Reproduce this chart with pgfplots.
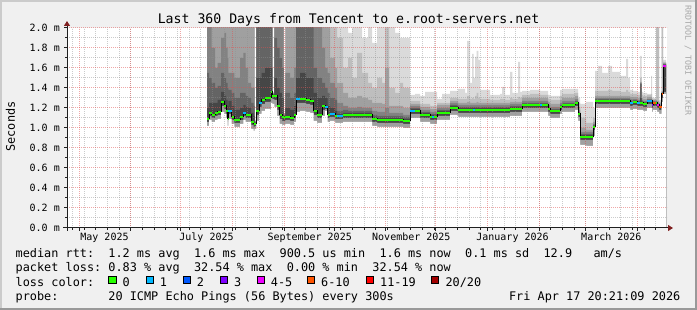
\documentclass[border=0pt]{standalone}
\usepackage{fontspec}
\setmainfont{DejaVu Sans Mono}
\usepackage{pgfplots}
\pgfplotsset{compat=1.18}
\usepackage{pgfplotstable}
\usetikzlibrary{arrows.meta}
\definecolor{backc}{HTML}{F0F0F0}
\definecolor{shadea}{HTML}{CBCBCB}
\definecolor{shadeb}{HTML}{999999}
\definecolor{axisc}{HTML}{202020}
\definecolor{arrowc}{HTML}{802020}
\definecolor{mgridc}{HTML}{E05050}
\definecolor{gridc}{HTML}{8F8F8F}
\definecolor{smA}{HTML}{DADADA}
\definecolor{smB}{HTML}{BEBEBE}
\definecolor{smC}{HTML}{A0A0A0}
\definecolor{smD}{HTML}{828282}
\definecolor{smE}{HTML}{646464}
\definecolor{smF}{HTML}{464646}
\definecolor{lossA}{HTML}{26FF00}
\definecolor{lossB}{HTML}{00B8FF}
\definecolor{lossC}{HTML}{0059FF}
\definecolor{lossD}{HTML}{7E00FF}
\definecolor{lossE}{HTML}{EE00FF}
\definecolor{lossF}{HTML}{FF5500}
\definecolor{lossG}{HTML}{FF0000}
\definecolor{lossH}{HTML}{A10000}
\definecolor{wmc}{HTML}{A8A8A8}
\newcommand\legfont{\fontsize{11.85bp}{14bp}\selectfont}
\newcommand\axfont{\fontsize{10bp}{12bp}\selectfont}
\newcommand\titlefont{\fontsize{13.2bp}{15bp}\selectfont}
\newcommand\wmfont{\fontsize{8.3bp}{10bp}\selectfont}

\pgfplotstableread{
d      med   u1    u2    u3    u4    u5    u6    lo2   lo1
84.00  1.09  2.1   2.1   2.1   2.1   1.55  1.20  1.06  1.02
85.20  1.15  2.1   2.1   2.1   2.1   1.50  1.25  1.12  1.08
86.82  1.13  2.1   2.1   2.1   1.80  1.45  1.25  1.10  1.06
88.80  1.15  2.1   2.1   2.1   1.60  1.40  1.25  1.12  1.08
90.42  1.16  2.1   2.1   2.1   1.65  1.42  1.28  1.13  1.09
92.40  1.26  2.1   2.1   2.1   1.90  1.55  1.36  1.22  1.16
94.38  1.22  2.1   2.1   2.1   1.95  1.50  1.32  1.19  1.14
95.40  1.17  2.1   2.1   2.1   1.80  1.45  1.28  1.14  1.10
96.42  1.09  2.1   2.1   2.1   1.70  1.40  1.22  1.06  1.02
96.78  1.17  2.1   2.1   2.1   1.55  1.38  1.27  1.14  1.09
98.82  1.11  2.1   2.1   2.1   1.55  1.35  1.22  1.08  1.04
100.38 1.08  2.1   2.1   2.1   1.50  1.30  1.18  1.05  1.01
103.80 1.11  2.1   2.1   2.1   1.70  1.35  1.20  1.08  1.04
105.78 1.15  2.1   2.1   2.1   1.75  1.35  1.23  1.12  1.08
107.22 1.13  2.1   2.1   2.1   1.60  1.32  1.21  1.10  1.06
108.60 1.13  2.1   2.1   2.1   1.45  1.30  1.20  1.10  1.06
110.40 1.06  2.1   2.1   2.1   1.40  1.25  1.15  1.03  0.99
112.02 1.04  2.1   2.1   2.1   1.40  1.22  1.12  1.01  0.97
112.50 1.04  1.08  1.07  1.07  1.06  1.06  1.05  1.02  0.99
113.58 1.17  2.1   2.1   2.1   2.1   2.1   1.50  1.13  1.07
115.20 1.25  2.1   2.1   2.1   2.1   2.1   1.50  1.21  1.14
116.82 1.28  2.1   2.1   2.1   2.1   2.1   1.55  1.24  1.17
118.80 1.30  2.1   2.1   2.1   2.1   2.1   1.60  1.26  1.19
122.40 1.36  2.1   2.1   2.1   2.1   2.1   1.60  1.32  1.25
123.18 1.32  1.36  1.35  1.35  1.34  1.34  1.33  1.29  1.24
124.38 1.32  2.1   2.1   2.1   2.1   1.90  1.50  1.28  1.21
126.00 1.22  2.1   2.1   2.1   2.1   1.80  1.40  1.18  1.12
127.50 1.13  2.1   2.1   2.1   2.1   1.70  1.35  1.09  1.04
129.00 1.11  2.1   2.1   2.1   2.1   1.60  1.30  1.07  1.03
130.02 1.10  1.15  1.14  1.14  1.13  1.13  1.12  1.07  1.03
130.98 1.11  2.1   2.1   2.1   1.55  1.35  1.20  1.08  1.04
133.80 1.10  2.1   2.1   2.1   1.50  1.30  1.18  1.07  1.03
136.20 1.13  2.1   2.1   2.1   1.60  1.35  1.22  1.10  1.06
137.40 1.29  2.1   2.1   2.1   2.1   2.1   1.50  1.25  1.16
139.80 1.29  2.1   2.1   2.1   2.1   2.1   1.55  1.25  1.17
143.40 1.28  2.1   2.1   2.1   2.1   2.1   1.50  1.24  1.16
145.80 1.27  2.1   2.1   2.1   2.1   2.1   1.50  1.23  1.15
147.90 1.17  2.1   2.1   2.1   2.1   1.60  1.35  1.13  1.07
150.00 1.13  2.1   2.1   2.1   2.1   1.50  1.30  1.10  1.05
153.00 1.22  2.1   2.1   2.1   1.80  1.45  1.32  1.18  1.12
154.80 1.21  2.1   2.1   2.1   1.60  1.40  1.30  1.19  1.17
156.42 1.13  2.1   2.1   2.1   1.55  1.35  1.22  1.10  1.06
157.80 1.14  2.1   2.1   1.70  1.45  1.30  1.20  1.11  1.07
160.80 1.12  2.1   2.1   1.60  1.40  1.28  1.17  1.09  1.05
162.00 1.12  2.1   1.90  1.45  1.25  1.17  1.14  1.09  1.05
165.60 1.13  2.1   1.60  1.35  1.22  1.18  1.15  1.10  1.06
168.60 1.13  1.95  1.70  1.30  1.20  1.17  1.15  1.10  1.06
171.00 1.13  2.1   1.50  1.30  1.20  1.17  1.15  1.10  1.06
174.00 1.13  2.1   1.75  1.32  1.21  1.17  1.15  1.10  1.06
177.00 1.13  1.90  1.55  1.30  1.20  1.17  1.15  1.10  1.06
180.60 1.13  2.1   1.45  1.28  1.20  1.17  1.15  1.10  1.06
183.00 1.09  1.85  1.40  1.25  1.17  1.13  1.11  1.06  1.02
186.00 1.08  2.1   1.50  1.25  1.16  1.12  1.10  1.05  1.01
189.00 1.08  2.1   1.45  1.24  1.16  1.12  1.10  1.05  1.01
190.80 1.08  2.1   2.1   1.60  1.20  1.12  1.10  1.05  1.01
193.20 1.08  2.1   1.40  1.22  1.15  1.12  1.10  1.05  1.01
196.80 1.08  1.95  1.35  1.22  1.15  1.12  1.10  1.05  1.01
199.80 1.08  1.90  1.45  1.22  1.15  1.12  1.10  1.05  1.01
201.60 1.07  1.90  1.40  1.20  1.13  1.11  1.09  1.04  1.00
205.80 1.17  1.33  1.27  1.24  1.22  1.20  1.19  1.14  1.10
208.80 1.17  1.34  1.27  1.24  1.22  1.20  1.19  1.14  1.10
211.80 1.13  1.32  1.24  1.21  1.18  1.16  1.15  1.10  1.06
214.80 1.13  1.36  1.24  1.21  1.18  1.16  1.15  1.10  1.06
217.80 1.11  1.36  1.22  1.19  1.16  1.14  1.13  1.08  1.04
222.00 1.15  1.29  1.25  1.23  1.20  1.18  1.17  1.12  1.08
225.00 1.15  1.34  1.25  1.23  1.20  1.18  1.17  1.12  1.08
229.80 1.20  1.37  1.30  1.27  1.25  1.23  1.22  1.17  1.13
234.60 1.18  1.39  1.29  1.25  1.23  1.21  1.20  1.15  1.11
238.80 1.18  1.35  1.29  1.25  1.23  1.21  1.20  1.15  1.11
240.00 1.18  1.87  1.32  1.26  1.23  1.21  1.20  1.15  1.11
241.80 1.18  1.45  1.29  1.25  1.23  1.21  1.20  1.15  1.11
243.00 1.18  1.74  1.30  1.25  1.23  1.21  1.20  1.15  1.11
243.90 1.18  1.50  1.29  1.25  1.23  1.21  1.20  1.15  1.11
244.80 1.18  1.71  1.32  1.25  1.23  1.21  1.20  1.15  1.11
245.82 1.18  1.77  1.35  1.26  1.23  1.21  1.20  1.15  1.11
246.78 1.18  1.68  1.30  1.25  1.23  1.21  1.20  1.15  1.11
247.80 1.18  1.38  1.29  1.25  1.23  1.21  1.20  1.15  1.11
253.80 1.18  1.33  1.28  1.25  1.23  1.21  1.20  1.15  1.11
259.80 1.18  1.34  1.29  1.25  1.23  1.21  1.20  1.15  1.11
261.00 1.18  1.41  1.29  1.25  1.23  1.21  1.20  1.15  1.11
262.80 1.18  1.33  1.28  1.25  1.23  1.21  1.20  1.15  1.11
265.80 1.19  1.56  1.30  1.26  1.24  1.22  1.21  1.16  1.12
267.18 1.19  1.35  1.29  1.26  1.24  1.22  1.21  1.16  1.12
270.60 1.19  1.66  1.31  1.26  1.24  1.22  1.21  1.16  1.12
271.80 1.19  1.36  1.30  1.26  1.24  1.22  1.21  1.16  1.12
273.00 1.23  1.37  1.33  1.30  1.27  1.25  1.24  1.20  1.16
277.80 1.23  1.38  1.34  1.30  1.27  1.25  1.24  1.20  1.16
283.80 1.23  1.37  1.33  1.30  1.27  1.25  1.24  1.20  1.16
288.60 1.19  1.33  1.29  1.26  1.23  1.21  1.20  1.16  1.12
289.80 1.17  1.32  1.28  1.24  1.21  1.19  1.18  1.14  1.10
295.80 1.21  1.38  1.32  1.28  1.25  1.23  1.22  1.18  1.14
297.00 1.23  1.39  1.34  1.30  1.27  1.25  1.24  1.20  1.16
304.80 1.25  1.39  1.35  1.32  1.29  1.27  1.26  1.22  1.18
306.60 1.14  1.30  1.25  1.21  1.18  1.16  1.15  1.11  1.07
307.80 0.91  1.24  1.10  1.00  0.96  0.94  0.93  0.88  0.83
311.40 0.91  1.26  1.05  0.98  0.96  0.94  0.93  0.88  0.82
315.60 1.01  1.20  1.10  1.06  1.04  1.03  1.02  0.98  0.92
316.80 1.27  1.57  1.37  1.32  1.30  1.29  1.28  1.24  1.20
318.60 1.27  1.62  1.37  1.32  1.30  1.29  1.28  1.24  1.20
321.00 1.27  1.55  1.37  1.32  1.30  1.29  1.28  1.24  1.20
324.60 1.27  1.62  1.38  1.32  1.30  1.29  1.28  1.24  1.20
327.00 1.27  1.56  1.37  1.32  1.30  1.29  1.28  1.24  1.20
331.80 1.27  1.52  1.36  1.32  1.30  1.29  1.28  1.24  1.20
335.40 1.27  1.69  1.38  1.32  1.30  1.29  1.28  1.24  1.20
336.60 1.27  1.50  1.36  1.32  1.30  1.29  1.28  1.24  1.20
337.80 1.25  1.38  1.34  1.31  1.29  1.27  1.26  1.22  1.18
339.60 1.26  1.37  1.34  1.31  1.29  1.28  1.27  1.23  1.19
342.00 1.25  1.36  1.33  1.30  1.28  1.27  1.26  1.22  1.18
343.80 1.25  1.72  1.50  1.46  1.45  1.44  1.30  1.22  1.18
344.70 1.25  1.36  1.33  1.30  1.28  1.27  1.26  1.22  1.18
345.60 1.24  1.35  1.32  1.29  1.27  1.26  1.25  1.21  1.17
348.00 1.27  1.34  1.33  1.31  1.29  1.28  1.28  1.24  1.20
350.40 1.27  1.52  1.34  1.31  1.29  1.28  1.28  1.24  1.20
351.00 1.23  1.30  1.29  1.27  1.25  1.24  1.24  1.20  1.16
351.60 1.25  1.30  1.29  1.28  1.27  1.26  1.26  1.22  1.18
353.40 1.25  2.1   2.1   1.28  1.27  1.26  1.26  1.22  1.18
354.00 1.23  2.1   2.1   1.27  1.25  1.24  1.24  1.20  1.16
355.20 1.21  1.28  1.26  1.25  1.23  1.22  1.22  1.18  1.14
356.70 1.34  2.1   2.1   1.37  1.36  1.35  1.35  1.30  1.26
357.60 1.62  1.68  1.66  1.65  1.64  1.64  1.63  1.36  1.34
359.40 1.62  1.68  1.66  1.65  1.64  1.64  1.63  1.36  1.34
}\smoke

\begin{document}
\frenchspacing
\begin{tikzpicture}
% canvas and frame
\fill[backc] (0,0) rectangle (697bp,310bp);
\fill[shadea] (0,0) rectangle (2bp,310bp);
\fill[shadea] (0,308bp) rectangle (697bp,310bp);
\fill[shadeb] (695bp,0) rectangle (697bp,310bp);
\fill[shadeb] (0,0) rectangle (697bp,2bp);
\fill[white] (67bp,82bp) rectangle (667bp,282bp);

\begin{axis}[
  at={(67bp,82bp)}, anchor=south west, scale only axis,
  width=600bp, height=200bp,
  xmin=0, xmax=360, ymin=0, ymax=2,
  set layers=axis on top, clip mode=individual,
  axis x line=bottom, axis y line=left,
  axis line style={draw=axisc, line width=1bp},
  x axis line style={-{Triangle[length=5bp,width=6bp,color=arrowc]}, shorten >=-6bp, shorten <=-4bp},
  y axis line style={-{Triangle[length=5bp,width=6bp,color=arrowc]}, shorten >=-7bp, shorten <=-3bp},
  xtick={7.3,38.3,68.3,99.3,130.3,160.3,191.3,221.3,252.3,283.3,311.3,342.3},
  xticklabels={},
  minor xtick={3.3,10.3,...,353.3},
  extra x ticks={22.5,83.7,145.6,206.6,267.3,326.6},
  extra x tick labels={May 2025,July 2025,September 2025,November 2025,January 2026,March 2026},
  extra x tick style={grid=none, major tick length=0pt},
  ytick={0,0.2,0.4,0.6,0.8,1.0,1.2,1.4,1.6,1.8,2.0},
  yticklabels={0.0 m,0.2 m,0.4 m,0.6 m,0.8 m,1.0 m,1.2 m,1.4 m,1.6 m,1.8 m,2.0 m},
  minor ytick={0.1,0.3,0.5,0.7,0.9,1.1,1.3,1.5,1.7,1.9},
  grid=both,
  major grid style={draw=mgridc, draw opacity=0.5, line width=1bp, dash pattern=on 1bp off 1bp},
  minor grid style={draw=gridc, draw opacity=0.46, line width=1bp, dash pattern=on 1bp off 1bp},
  tick align=outside,
  major tick length=3bp, minor tick length=2bp,
  tick style={draw=axisc, line width=1bp},
  tick label style={font=\axfont, text=black},
  yticklabel style={anchor=east, inner sep=0pt, xshift=-4bp},
  xticklabel style={anchor=base, inner sep=0pt, yshift=-13bp},
]
\addplot[draw=none, fill=smA, const plot] table[x=d, y=u1] {\smoke} \closedcycle;
\addplot[draw=none, fill=smB, const plot] table[x=d, y=u2] {\smoke} \closedcycle;
\addplot[draw=none, fill=smC, const plot] table[x=d, y=u3] {\smoke} \closedcycle;
\addplot[draw=none, fill=smD, const plot] table[x=d, y=u4] {\smoke} \closedcycle;
\addplot[draw=none, fill=smE, const plot] table[x=d, y=u5] {\smoke} \closedcycle;
\addplot[draw=none, fill=smF, const plot] table[x=d, y=u6] {\smoke} \closedcycle;
\addplot[draw=none, fill=smC, const plot] table[x=d, y=lo2] {\smoke} \closedcycle;
\addplot[draw=none, fill=white, const plot] table[x=d, y=lo1] {\smoke} \closedcycle;
% median
\addplot[on layer=axis foreground, black, line width=1bp, const plot] table[x=d, y=med] {\smoke};
\addplot[on layer=axis foreground, lossA, line width=2bp, jump mark left] table[x=d, y=med] {\smoke};
\addplot[on layer=axis foreground, lossB, line width=2bp, unbounded coords=jump] coordinates {
 (96.78,1.17) (98.82,1.17) (98.82,nan)
 (105.78,1.15) (107.22,1.15) (107.22,nan)
 (115.2,1.25) (116.82,1.25) (116.82,nan)
 (137.4,1.29) (139.8,1.29) (139.8,nan)
 (154.8,1.21) (156.42,1.21) (156.42,nan)
 (157.8,1.14) (160.8,1.14) (160.8,nan)
 (162.0,1.12) (165.6,1.12) (165.6,nan)
 (205.8,1.17) (208.8,1.17) (208.8,nan)
 (219.0,1.11) (220.2,1.11) (220.2,nan)
 (243.6,1.18) (244.8,1.18) (244.8,nan)
 (283.8,1.23) (285.0,1.23) (285.0,nan)
 (337.8,1.25) (339.6,1.25) (339.6,nan)
 (342.0,1.25) (343.8,1.25) (343.8,nan)
 (348.0,1.27) (351.0,1.27)
};
\addplot[on layer=axis foreground, lossD, line width=2bp] coordinates {(351.0,1.23) (351.6,1.23)};
\addplot[on layer=axis foreground, lossF, line width=2bp, unbounded coords=jump] coordinates {
 (351.6,1.25) (353.4,1.25) (353.4,nan)
 (355.2,1.21) (356.7,1.21) (356.7,nan)
 (356.7,1.34) (357.6,1.34)
};
\addplot[on layer=axis foreground, lossE, line width=2bp, unbounded coords=jump] coordinates {
 (354.0,1.23) (355.2,1.23) (355.2,nan)
 (357.6,1.62) (359.4,1.62)
};
\end{axis}

% title and labels
\node[font=\titlefont, anchor=base] at (348.5bp,286bp) {Last 360 Days from Tencent to e.root-servers.net};
\node[font=\legfont, rotate=90, anchor=center] at (10.5bp,183.5bp) {Seconds};
\node[font=\wmfont, text=wmc, rotate=-90, anchor=west, inner sep=0pt] at (688bp,305bp) {RRDTOOL / TOBI OETIKER};

% legend
\node[font=\legfont, anchor=base west, inner sep=0pt] at (15.5bp,52.7bp) {median rtt:~~1.2 ms avg~~1.6 ms max~~900.5 us min~~1.6 ms now~~0.1 ms sd~~12.9~~~am/s};
\node[font=\legfont, anchor=base west, inner sep=0pt] at (15.5bp,38.3bp) {packet loss: 0.83 \% avg~~32.54 \% max~~0.00 \% min~~32.54 \% now};
\node[font=\legfont, anchor=base west, inner sep=0pt] at (15.5bp,24bp) {loss color:};
\node[font=\legfont, anchor=base west, inner sep=0pt] at (15.5bp,10bp) {probe:~~~~~~~20 ICMP Echo Pings (56 Bytes) every 300s};
\node[font=\legfont, anchor=base east, inner sep=0pt] at (680.5bp,10bp) {Fri Apr 17 20:21:09 2026};

\foreach \bx/\bc/\lx/\lt in {108.8/lossA/122.5/{0}, 146.2/lossB/159.7/{1}, 183.2/lossC/196.7/{2}, 220.5/lossD/233.8/{3}, 257.2/lossE/270.7/{4-5}, 307.2/lossF/321/{6-10}, 366.2/lossG/380/{11-19}, 431.2/lossH/445.3/{20/20}} {
  \filldraw[fill=\bc, draw=black, line width=1bp] (\bx bp,26.2bp) rectangle ++(7.4bp,7.4bp);
  \node[font=\legfont, anchor=base west, inner sep=0pt] at (\lx bp,24bp) {\lt};
}

\pgfresetboundingbox
\path[use as bounding box] (0,0) rectangle (697bp,310bp);
\end{tikzpicture}
\end{document}
